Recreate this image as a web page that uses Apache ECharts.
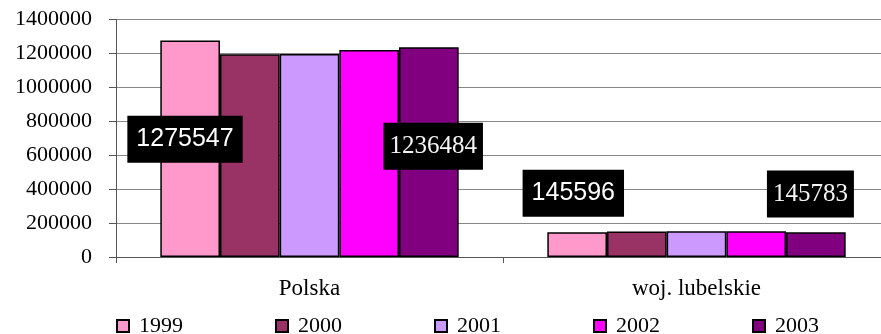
<!DOCTYPE html>
<html>
<head>
<meta charset="utf-8">
<script src="https://cdn.jsdelivr.net/npm/echarts@6/dist/echarts.min.js"></script>
<style>
  html, body { margin: 0; padding: 0; background: #fff; overflow: hidden; }
  #chart { width: 890px; height: 334px; }
</style>
</head>
<body>
<div id="chart"></div>
<script>
// Regions on the category axis
const categories = ['Polska', 'woj. lubelskie'];
// Years shown as series
const years = ['1999', '2000', '2001', '2002', '2003'];
// Values per year: [Polska, woj. lubelskie]
const values1999 = [1275547, 145596];
const values2000 = [1195000, 150500];
const values2001 = [1197000, 151300];
const values2002 = [1220000, 151800];
const values2003 = [1236484, 145783];
const yTicks = [0, 200000, 400000, 600000, 800000, 1000000, 1200000, 1400000];

const seriesValues = [values1999, values2000, values2001, values2002, values2003];
const colors = ['#FF99CC', '#993366', '#CC99FF', '#FF00FF', '#800080'];

// Value boxes drawn on the first and last year of each region
const sansBox = {
  show: true, color: '#fff', backgroundColor: '#000',
  fontFamily: 'Liberation Sans', fontSize: 25, lineHeight: 28,
  padding: [9, 9, 10, 9], align: 'center', verticalAlign: 'middle'
};
const serifBox = {
  show: true, color: '#f4f4f4', backgroundColor: '#000',
  fontFamily: 'Liberation Serif', fontSize: 25, lineHeight: 28,
  padding: [9, 6, 10, 6], align: 'center', verticalAlign: 'middle'
};
const boxLabels = {
  '0-0': Object.assign({}, sansBox, { position: [24.7, 98.7] }),
  '0-1': Object.assign({}, sansBox, { position: [26, -39] }),
  '4-0': Object.assign({}, serifBox, { position: [34.2, 99.1] }),
  '4-1': Object.assign({}, serifBox, { position: [24.4, -38.2] })
};

const series = years.map((y, si) => ({
  name: y,
  type: 'bar',
  barGap: 0,
  barCategoryGap: '22.9%',
  itemStyle: { color: colors[si], borderColor: '#000', borderWidth: 1.5 },
  data: seriesValues[si].map((v, ci) => {
    const lab = boxLabels[si + '-' + ci];
    return lab ? { value: v, label: lab } : { value: v };
  })
}));

const chart = echarts.init(document.getElementById('chart'), null, { renderer: 'canvas' });
chart.setOption({
  animation: false,
  backgroundColor: '#fff',
  grid: { left: 116, top: 19.5, right: 0, height: 237.5, containLabel: false },
  legend: {
    data: years,
    left: 116,
    top: 315,
    padding: 0,
    icon: 'rect',
    itemWidth: 12,
    itemHeight: 12,
    itemGap: 92,
    textStyle: {
      fontFamily: 'Liberation Serif', fontSize: 22, color: '#000',
      padding: [0, 0, 0, 5]
    }
  },
  xAxis: {
    type: 'category',
    data: categories,
    axisLine: { lineStyle: { color: '#555', width: 1 } },
    axisTick: { show: true, length: 6, lineStyle: { color: '#555' } },
    axisLabel: {
      fontFamily: 'Liberation Serif', fontSize: 23, color: '#000', margin: 20
    }
  },
  yAxis: {
    type: 'value',
    min: yTicks[0],
    max: yTicks[yTicks.length - 1],
    interval: yTicks[1] - yTicks[0],
    axisLine: { show: true, lineStyle: { color: '#555', width: 1 } },
    axisTick: { show: true, length: 7, lineStyle: { color: '#555' } },
    splitLine: { show: true, lineStyle: { color: '#888', width: 1 } },
    axisLabel: {
      fontFamily: 'Liberation Serif', fontSize: 22, color: '#000', margin: 24,
      formatter: v => String(v)
    }
  },
  series: series
});
</script>
</body>
</html>
